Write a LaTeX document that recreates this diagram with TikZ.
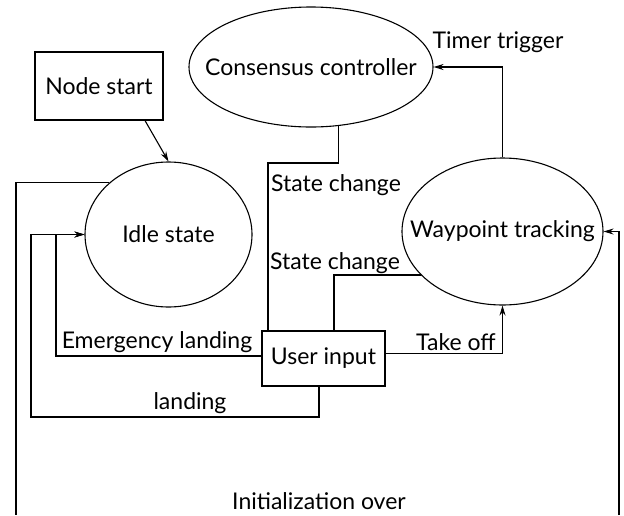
\documentclass[tikz,border=0pt]{standalone}
\usepackage{fontspec}
\setmainfont{Lato}
\usetikzlibrary{shapes.geometric,arrows.meta}
\begin{document}
\begin{tikzpicture}[x=1pt,y=-1pt,
  every node/.style={font=\fontsize{23}{27}\selectfont},
  every label/.style={inner sep=0pt},
  box/.style={draw,line width=1.1pt,inner sep=0pt},
  ell/.style={draw,ellipse,line width=1.1pt,inner sep=0pt},
  conn/.style={line width=1.1pt},
  arr/.style={conn,-{Stealth[length=10pt,width=6pt]}},
  lbl/.style={inner sep=0pt}]
\useasboundingbox (0,0) rectangle (624,515);
\node[box, minimum width=128pt, minimum height=68pt] (ns) at (99,86) {Node start};
\node[ell, minimum width=167pt, minimum height=145pt, label={center:Idle state}] (idle) at (168.5,234.5) {};
\node[ell, minimum width=244pt, minimum height=120pt, label={center:Consensus controller}] (cc) at (311,67) {};
\node[ell, minimum width=201pt, minimum height=147pt, label={center:Waypoint tracking}] (wp) at (502.5,231.5) {};
\node[box, minimum width=123pt, minimum height=55pt] (ui) at (323.5,358.5) {User input};
% connectors
\draw[arr] ([xshift=46pt]ns.south) -- (idle.north);
\coordinate (b1) at (338,163);
\draw[conn] (cc.-65) |- (b1) -| ([xshift=-55.5pt]ui.north);
\draw[conn] (wp.208) -| ([xshift=10.5pt]ui.north);
\draw[arr] ([yshift=5pt]ui.east) -| (wp.south);
\draw[arr] (wp.north) |- (cc.east);
\coordinate (emc) at (56,356);
\draw[arr] ([yshift=2.5pt]ui.west) -- (emc) |- (idle.west);
\coordinate (ldc) at (31,417);
\draw[arr] ([xshift=-4.5pt]ui.south) |- (ldc) |- (idle.west);
\coordinate (il) at (16,515);
\coordinate (ir) at (619,515);
\draw[conn] (idle.139) -| (il);
\draw[arr] (ir) |- (wp.east);
% labels
\node[lbl] (tt) at (498,42) {Timer trigger};
\node[lbl] (sc1) at (336,185) {State change};
\node[lbl] (sc2) at (335,263) {State change};
\node[lbl] (to) at (456,342) {Take off};
\node[lbl] (eml) at (157,342) {Emergency landing};
\node[lbl] (ld) at (190,403) {landing};
\node[lbl] (io) at (319,501) {Initialization over};
\end{tikzpicture}
\end{document}
